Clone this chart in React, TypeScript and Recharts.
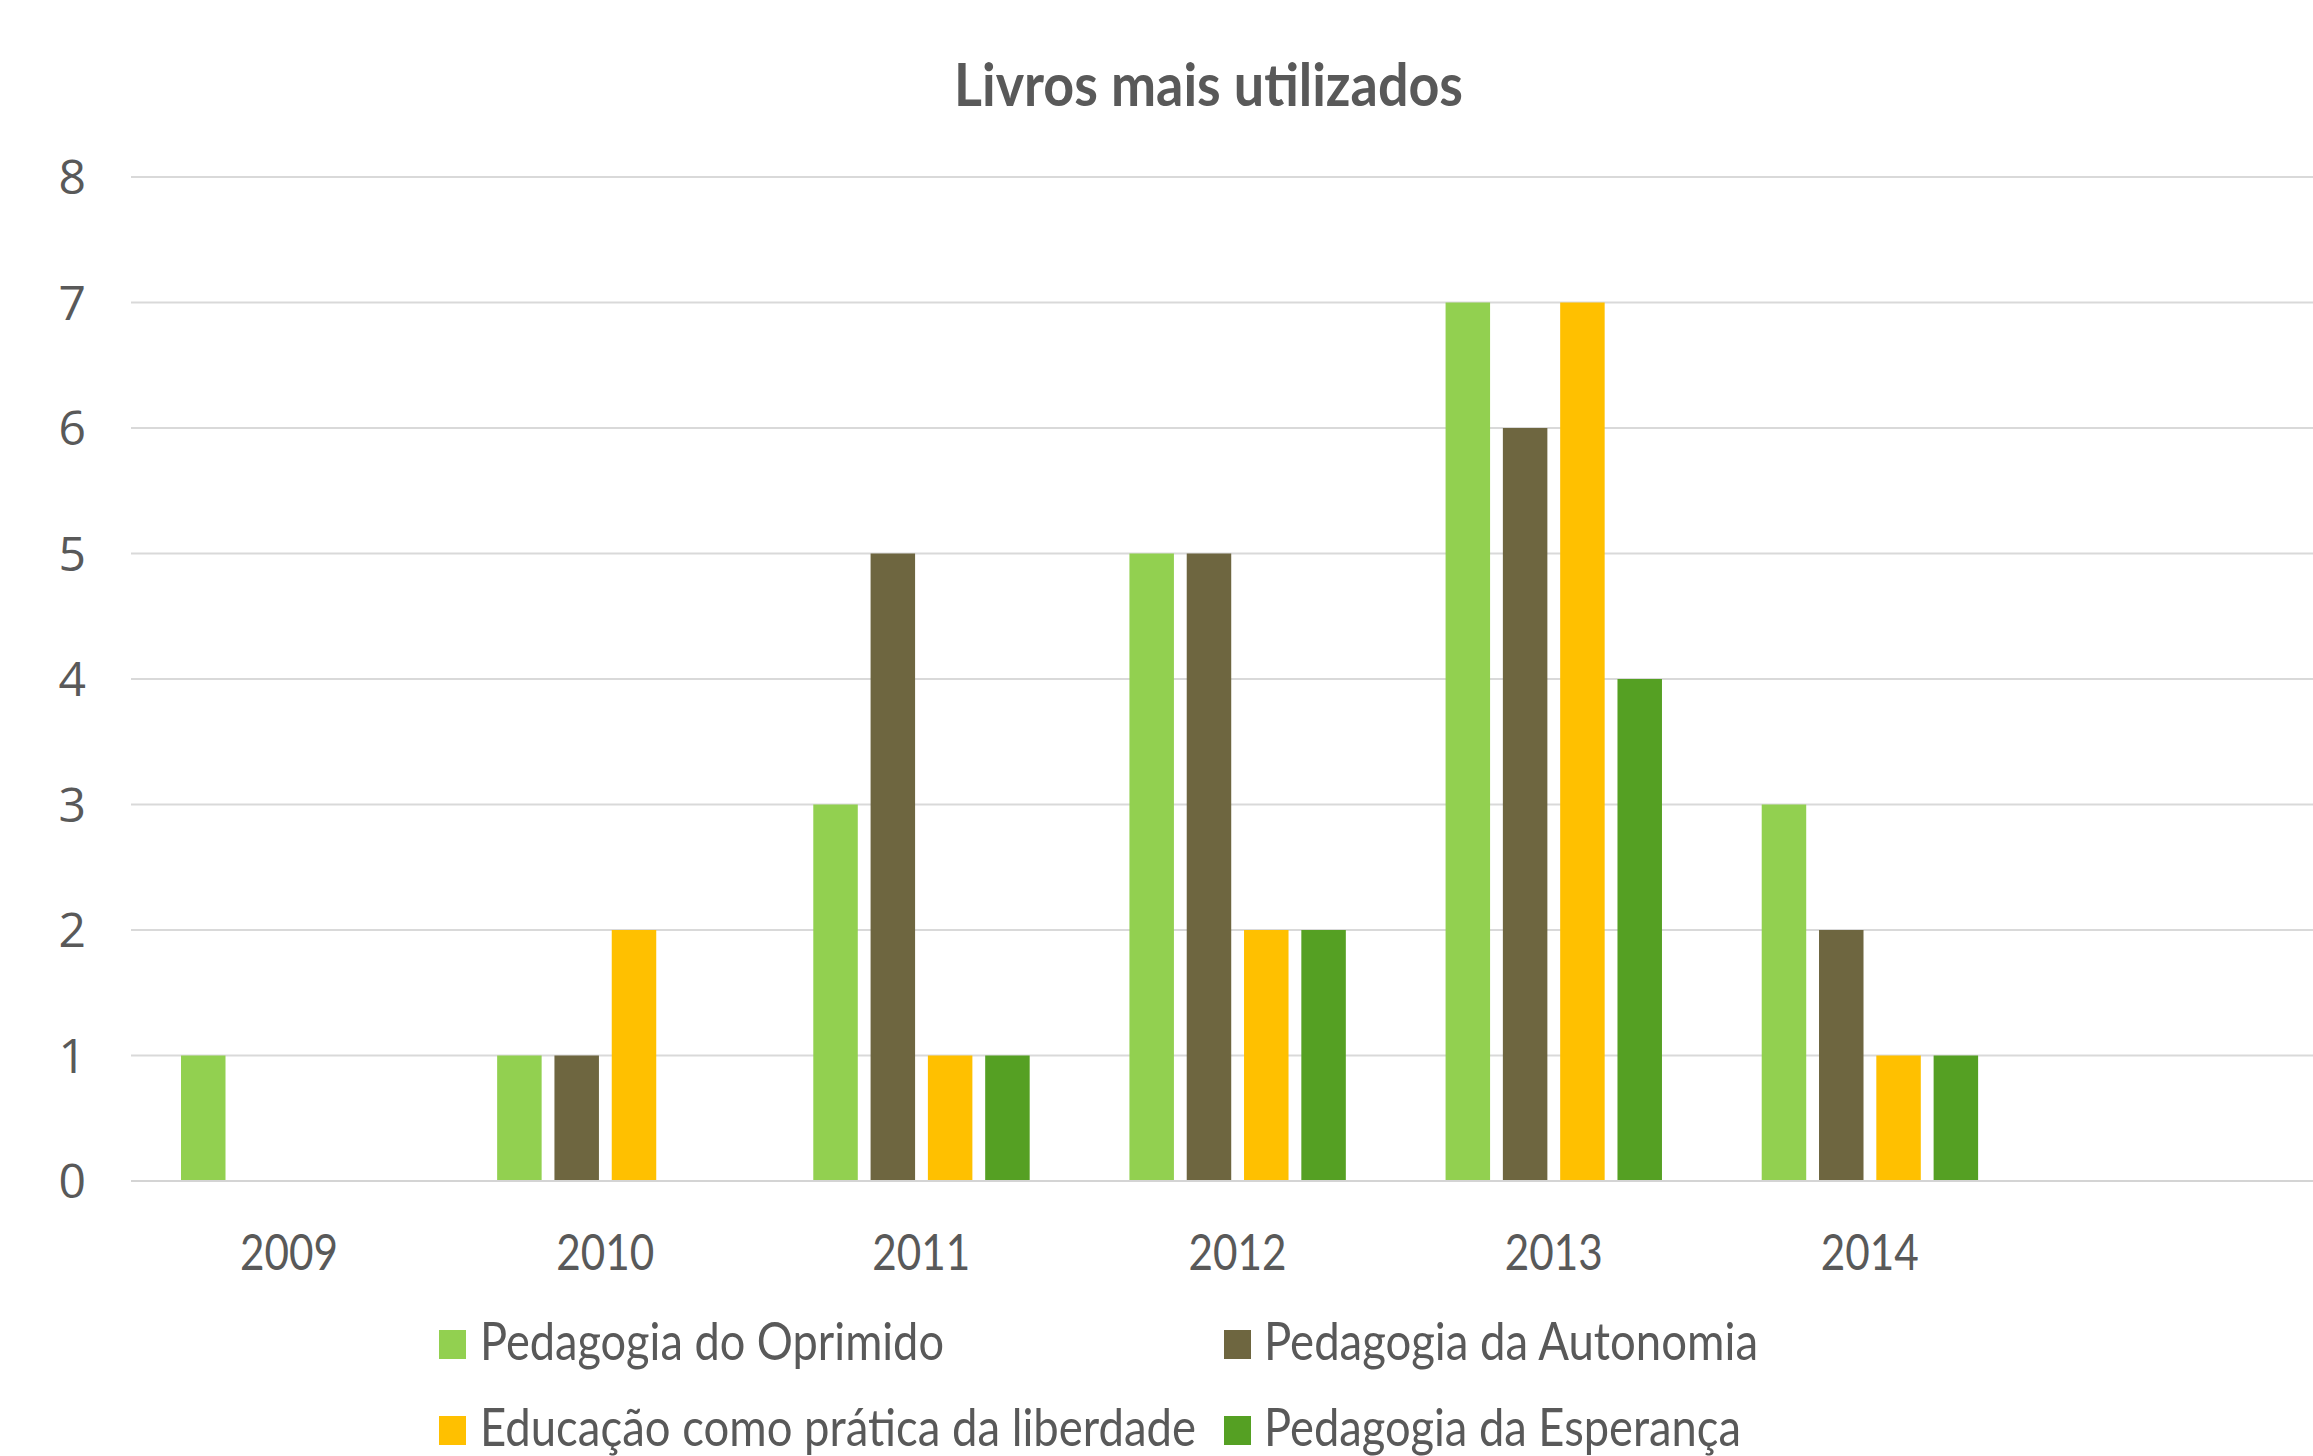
import React from "react";
import { BarChart, Bar, XAxis, YAxis, CartesianGrid } from "recharts";

const years = ["2009", "2010", "2011", "2012", "2013", "2014", ""];
const oprimido = [1, 1, 3, 5, 7, 3, null];
const autonomia = [0, 1, 5, 5, 6, 2, null];
const educacao = [0, 2, 1, 2, 7, 1, null];
const esperanca = [0, 0, 1, 2, 4, 1, null];
const yTicks = [0, 1, 2, 3, 4, 5, 6, 7, 8];

const series = [
  { key: "oprimido", name: "Pedagogia do Oprimido", color: "#92D050", values: oprimido },
  { key: "autonomia", name: "Pedagogia da Autonomia", color: "#6E6640", values: autonomia },
  { key: "educacao", name: "Educação como prática da liberdade", color: "#FFC000", values: educacao },
  { key: "esperanca", name: "Pedagogia da Esperança", color: "#55A023", values: esperanca },
];

const data = years.map((year, i) => {
  const row: any = { year };
  series.forEach((s) => (row[s.key] = s.values[i]));
  return row;
});

const TEXT = "#595959";

const XTick = (props: any) => {
  const { x, y, payload } = props;
  if (!payload.value) return null;
  return (
    <text
      x={x}
      y={y + 89}
      textAnchor="middle"
      fill={TEXT}
      fontFamily="Lato"
      fontSize={50}
      textLength={98}
      lengthAdjust="spacingAndGlyphs"
    >
      {payload.value}
    </text>
  );
};

const YTick = (props: any) => {
  const { y, payload } = props;
  return (
    <text x={86} y={y + 17} textAnchor="end" fill={TEXT} fontFamily="Open Sans" fontSize={48}>
      {payload.value}
    </text>
  );
};

// legend placement: [square x, text x, row baseline, text width]
const legendPos = [
  [439, 480, 1360, 464],
  [1224, 1264, 1360, 494],
  [439, 480, 1446, 716],
  [1224, 1264, 1446, 477],
];

export default function App() {
  return (
    <div
      style={{
        position: "absolute",
        top: 0,
        left: 0,
        width: 2313,
        height: 1456,
        overflow: "hidden",
        background: "#fff",
      }}
    >
      <BarChart
        width={2344}
        height={1456}
        data={data}
        margin={{ top: 177, right: 0, bottom: 175, left: 0 }}
        barSize={44.5}
        barGap={12.8}
      >
        <CartesianGrid horizontal vertical={false} stroke="#d9d9d9" strokeWidth={2} />
        <XAxis
          dataKey="year"
          height={100}
          tickSize={0}
          tickMargin={0}
          tickLine={false}
          axisLine={{ stroke: "#d4d4d4", strokeWidth: 2 }}
          tick={<XTick />}
          interval={0}
        />
        <YAxis
          width={131}
          domain={[0, 8]}
          ticks={yTicks}
          axisLine={false}
          tickLine={false}
          tickSize={0}
          tick={<YTick />}
        />
        {series.map((s) => (
          <Bar key={s.key} dataKey={s.key} name={s.name} fill={s.color} isAnimationActive={false} />
        ))}
      </BarChart>
      <svg
        width={2313}
        height={1456}
        style={{ position: "absolute", top: 0, left: 0, pointerEvents: "none" }}
      >
        <text
          x={954}
          y={106}
          fill={TEXT}
          fontFamily="Lato"
          fontWeight="bold"
          fontSize={60}
          textLength={509}
          lengthAdjust="spacingAndGlyphs"
        >
          Livros mais utilizados
        </text>
        {series.map((s, i) => {
          const [sx, tx, by, tw] = legendPos[i];
          return (
            <g key={s.key}>
              <rect x={sx} y={by - 30} width={27} height={29} fill={s.color} />
              <text
                x={tx}
                y={by}
                fill={TEXT}
                fontFamily="Lato"
                fontSize={52}
                textLength={tw}
                lengthAdjust="spacingAndGlyphs"
              >
                {s.name}
              </text>
            </g>
          );
        })}
      </svg>
    </div>
  );
}
